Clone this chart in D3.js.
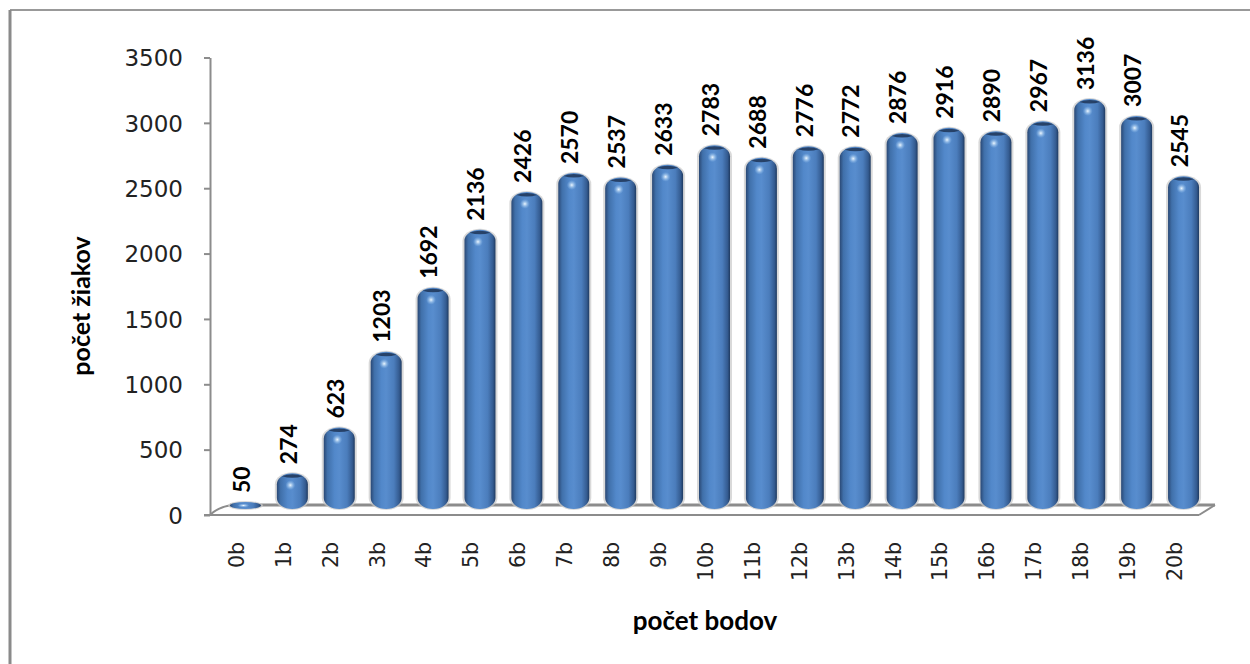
<!DOCTYPE html>
<html>
<head>
<meta charset="utf-8">
<script src="https://cdn.jsdelivr.net/npm/d3@7"></script>
<style>
  body { margin: 0; background: #fff; }
  .tick text { font-family: "DejaVu Sans", sans-serif; fill: #222; }
</style>
</head>
<body>
<script>
/////////////
/// DATA ///
/////////////

var categories = ["0b", "1b", "2b", "3b", "4b", "5b", "6b", "7b", "8b", "9b", "10b",
                  "11b", "12b", "13b", "14b", "15b", "16b", "17b", "18b", "19b", "20b"];
var counts = [50, 274, 623, 1203, 1692, 2136, 2426, 2570, 2537, 2633, 2783,
              2688, 2776, 2772, 2876, 2916, 2890, 2967, 3136, 3007, 2545];
var yTicks = [0, 500, 1000, 1500, 2000, 2500, 3000, 3500];
var xTitle = "počet bodov",
    yTitle = "počet žiakov";

/////////////////
/// SETUP VIZ ///
/////////////////

var W = 1250, H = 664;
// plot box (window.top is reserved, so use own names)
var plotLeft = 210, plotRight = 1195, plotTop = 57.5, plotBottom = 515;
// 3d depth offset of the bars behind the front plane
var depthX = 12, depthY = -6;

var x = d3.scaleBand().domain(categories).range([plotLeft, plotRight]).paddingInner(0).paddingOuter(0),
    y = d3.scaleLinear().domain([0, 3500]).range([plotBottom, plotTop]);

var barW = 31;

var svg = d3.select("body").append("svg")
    .attr("width", W)
    .attr("height", H);

// gradient for the cylinders
var defs = svg.append("defs");
var grad = defs.append("linearGradient")
    .attr("id", "cyl")
    .attr("x1", "0%").attr("x2", "100%").attr("y1", "0%").attr("y2", "0%");
[[0, "#2a4874"], [0.12, "#4070aa"], [0.35, "#5288ca"], [0.5, "#588dce"],
 [0.75, "#4b7dbc"], [0.92, "#345b90"], [1, "#1f3a60"]].forEach(function(s) {
  grad.append("stop").attr("offset", s[0]).attr("stop-color", s[1]);
});
var glow = defs.append("radialGradient").attr("id", "glow");
glow.append("stop").attr("offset", 0).attr("stop-color", "#eef8ff").attr("stop-opacity", 1);
glow.append("stop").attr("offset", 1).attr("stop-color", "#8fc0f0").attr("stop-opacity", 0);

// outer frame (top and left edge visible)
svg.append("line")
    .attr("x1", 10).attr("x2", W).attr("y1", 10).attr("y2", 10)
    .attr("stroke", "#999").attr("stroke-width", 2);
svg.append("line")
    .attr("x1", 10).attr("x2", 10).attr("y1", 10).attr("y2", H)
    .attr("stroke", "#8a8a8a").attr("stroke-width", 3);

// floor of the 3d plot
var floor = svg.append("g").attr("fill", "none").attr("stroke", "#8c8c8c");
floor.append("path")
    .attr("stroke-width", 3)
    .attr("d", "M" + (plotLeft + 20) + "," + (plotBottom - 10) + "L" + (plotRight + 20) + "," + (plotBottom - 10));
floor.append("path")
    .attr("stroke-width", 2)
    .attr("d", "M" + plotLeft + "," + plotBottom + "Q" + (plotLeft + 8) + "," + (plotBottom - 8) + " " + (plotLeft + 22) + "," + (plotBottom - 10));
floor.append("path")
    .attr("stroke-width", 2)
    .attr("d", "M" + (plotRight + 4) + "," + plotBottom + "L" + (plotRight + 20) + "," + (plotBottom - 10));

// y axis
var yAxis = svg.append("g")
    .attr("class", "axis axis--y")
    .attr("transform", "translate(" + plotLeft + ",0)")
    .call(d3.axisLeft(y).tickValues(yTicks).tickFormat(d3.format("d"))
      .tickSize(6).tickPadding(21).tickSizeOuter(0));
yAxis.selectAll("line, path").attr("stroke", "#8c8c8c").attr("stroke-width", 2);
yAxis.selectAll("text").attr("font-size", 23).attr("dy", "0.36em");

// x axis (front edge of the floor)
svg.append("line")
    .attr("x1", plotLeft - 6).attr("x2", plotRight + 4)
    .attr("y1", plotBottom).attr("y2", plotBottom)
    .attr("stroke", "#8c8c8c").attr("stroke-width", 2);

svg.append("g").selectAll("text")
    .data(categories)
    .enter().append("text")
    .attr("transform", function(d) {
      return "translate(" + (x(d) + x.bandwidth() / 2 + 3) + "," + (plotBottom + 27) + ") rotate(-90)";
    })
    .attr("text-anchor", "end")
    .attr("dy", "0.36em")
    .attr("font-family", "DejaVu Sans, sans-serif")
    .attr("font-size", 20.5)
    .attr("fill", "#222")
    .text(function(d) { return d; });

// cylinders
var bars = svg.append("g").selectAll(".bar")
    .data(counts)
    .enter().append("g")
    .attr("class", "bar")
    .attr("transform", function(d, i) {
      return "translate(" + (x(categories[i]) + x.bandwidth() / 2 + depthX) + "," + depthY + ")";
    });

function barH(d) { return Math.max(7, y(0) - y(d)); }
function capR(d) { return Math.min(11, barH(d) / 2); }

// soft grey shadow
bars.append("rect")
    .attr("x", -barW / 2 - 2)
    .attr("y", function(d) { return y(0) - barH(d) - 1; })
    .attr("width", barW + 4)
    .attr("height", function(d) { return barH(d) + 2; })
    .attr("rx", barW / 2 + 2)
    .attr("ry", function(d) { return capR(d) + 1; })
    .attr("fill", "#c9c9c9")
    .attr("opacity", 0.7);

bars.append("rect")
    .attr("x", -barW / 2)
    .attr("y", function(d) { return y(0) - barH(d); })
    .attr("width", barW)
    .attr("height", barH)
    .attr("rx", barW / 2)
    .attr("ry", capR)
    .attr("fill", "url(#cyl)");

// dark rim on the top cap
bars.filter(function(d) { return d > 200; }).append("path")
    .attr("d", function(d) {
      var t = y(0) - barH(d);
      return "M" + (-barW / 2 + 5) + "," + (t + 3) +
             "Q0," + (t - 1) + " " + (barW / 2 - 5) + "," + (t + 3) +
             "Q0," + (t + 6) + " " + (-barW / 2 + 5) + "," + (t + 3) + "Z";
    })
    .attr("fill", "#1e3557")
    .attr("opacity", 0.85);

// highlight spot
bars.append("ellipse")
    .attr("cx", -2)
    .attr("cy", function(d) { return y(0) - barH(d) + Math.min(12, barH(d) / 2); })
    .attr("rx", function(d) { return d > 200 ? 5 : 6; })
    .attr("ry", function(d) { return d > 200 ? 5 : 2; })
    .attr("fill", "url(#glow)");

// value labels
bars.append("text")
    .attr("transform", function(d) {
      return "translate(-4," + (y(0) - barH(d) - 9) + ") rotate(-90)";
    })
    .attr("text-anchor", "start")
    .attr("dy", "0.36em")
    .attr("font-family", "Lato, sans-serif")
    .attr("font-weight", "bold")
    .attr("font-size", 23)
    .attr("fill", "#000")
    .text(function(d) { return d; });

// axis titles
svg.append("text")
    .attr("x", 705)
    .attr("y", 630)
    .attr("text-anchor", "middle")
    .attr("font-family", "Lato, sans-serif")
    .attr("font-weight", "bold")
    .attr("font-size", 26)
    .text(xTitle);

svg.append("text")
    .attr("transform", "translate(81,306) rotate(-90)")
    .attr("text-anchor", "middle")
    .attr("dy", "0.36em")
    .attr("font-family", "Lato, sans-serif")
    .attr("font-weight", "bold")
    .attr("font-size", 25)
    .text(yTitle);
</script>
</body>
</html>
